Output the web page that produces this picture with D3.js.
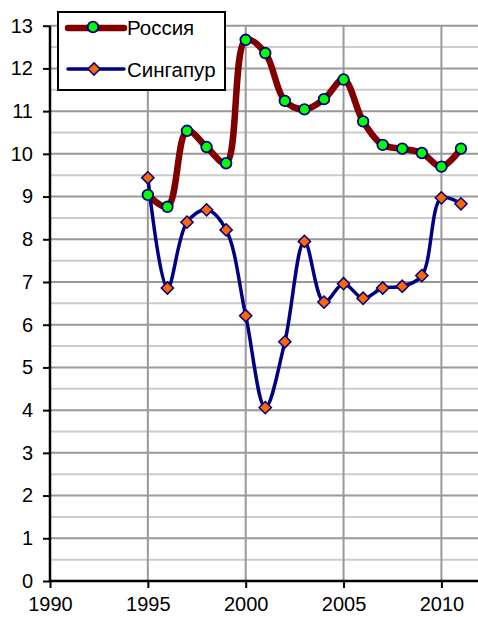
<!DOCTYPE html>
<html>
<head>
<meta charset="utf-8">
<script src="https://cdn.jsdelivr.net/npm/d3@7"></script>
<style>
  body { margin: 0; background: #fff; }
  svg { display: block; font-family: "Liberation Sans", Arial, sans-serif; }
</style>
</head>
<body>
<svg id="chart" width="478" height="617"></svg>
<script>
// data
var years = [1995, 1996, 1997, 1998, 1999, 2000, 2001, 2002, 2003, 2004, 2005, 2006, 2007, 2008, 2009, 2010, 2011];
var russia = [9.04, 8.76, 10.54, 10.16, 9.78, 12.67, 12.36, 11.24, 11.04, 11.28, 11.74, 10.76, 10.21, 10.12, 10.02, 9.70, 10.12];
var singapore = [9.44, 6.86, 8.40, 8.69, 8.22, 6.21, 4.06, 5.60, 7.95, 6.53, 6.96, 6.62, 6.86, 6.90, 7.15, 8.97, 8.83];
var xTicks = [1990, 1995, 2000, 2005, 2010];
var yTicks = [0, 1, 2, 3, 4, 5, 6, 7, 8, 9, 10, 11, 12, 13];
var seriesNames = ["Россия", "Сингапур"];

var svg = d3.select("#chart");
var plotLeft = 50, plotTop = 25.7, plotBottom = 581;

var x = d3.scaleLinear().domain([1990, 2012]).range([plotLeft, plotLeft + 22 * 19.57]);
var y = d3.scaleLinear().domain([0, 13]).range([plotBottom, plotTop]);

// minor grid
svg.append("g").selectAll("line")
  .data(d3.range(0.5, 13, 1))
  .join("line")
  .attr("x1", plotLeft).attr("x2", 478)
  .attr("y1", function(d) { return y(d); }).attr("y2", function(d) { return y(d); })
  .attr("stroke", "#cccccc").attr("stroke-width", 2);

// major grid
svg.append("g").selectAll("line")
  .data(yTicks.slice(1))
  .join("line")
  .attr("x1", plotLeft).attr("x2", 478)
  .attr("y1", function(d) { return y(d); }).attr("y2", function(d) { return y(d); })
  .attr("stroke", "#999999").attr("stroke-width", 2);

svg.append("g").selectAll("line")
  .data(xTicks.slice(1))
  .join("line")
  .attr("x1", function(d) { return x(d); }).attr("x2", function(d) { return x(d); })
  .attr("y1", plotTop).attr("y2", plotBottom)
  .attr("stroke", "#999999").attr("stroke-width", 2);

// axes
var yAxis = svg.append("g")
  .attr("transform", "translate(" + plotLeft + ",0)")
  .call(d3.axisLeft(y).tickValues(yTicks).tickSize(7).tickPadding(10).tickFormat(d3.format("d")));
var xAxis = svg.append("g")
  .attr("transform", "translate(0," + plotBottom + ")")
  .call(d3.axisBottom(x).tickValues(xTicks).tickSize(7).tickPadding(9).tickFormat(d3.format("d")));

[yAxis, xAxis].forEach(function(a) {
  a.select(".domain").attr("stroke", "#000").attr("stroke-width", 2.5);
  a.selectAll(".tick line").attr("stroke", "#000").attr("stroke-width", 2);
  a.selectAll("text").attr("font-size", 20).attr("fill", "#000")
    .attr("font-family", "'Liberation Sans', Arial, sans-serif");
});
xAxis.select(".domain").attr("d", "M" + plotLeft + ",0H478");
yAxis.select(".domain").attr("d", "M0," + plotTop + "V" + plotBottom);

// lines
var line = d3.line()
  .x(function(d, i) { return x(years[i]); })
  .y(function(d) { return y(d); })
  .curve(d3.curveCatmullRom.alpha(0.5));

svg.append("path").datum(russia)
  .attr("d", line).attr("fill", "none")
  .attr("stroke", "#800000").attr("stroke-width", 6.5).attr("stroke-linejoin", "round");

svg.append("path").datum(singapore)
  .attr("d", line).attr("fill", "none")
  .attr("stroke", "#000080").attr("stroke-width", 3.5).attr("stroke-linejoin", "round");

var diamond = d3.symbol().type(d3.symbolDiamond2).size(95);

svg.append("g").selectAll("path")
  .data(singapore)
  .join("path")
  .attr("d", diamond)
  .attr("transform", function(d, i) { return "translate(" + x(years[i]) + "," + y(d) + ")"; })
  .attr("fill", "#ff6600").attr("stroke", "#000080").attr("stroke-width", 1.5);

svg.append("g").selectAll("circle")
  .data(russia)
  .join("circle")
  .attr("cx", function(d, i) { return x(years[i]); })
  .attr("cy", function(d) { return y(d); })
  .attr("r", 5.3)
  .attr("fill", "#00ff00").attr("stroke", "#000080").attr("stroke-width", 1.8);

// legend
var lg = svg.append("g");
lg.append("rect")
  .attr("x", 58).attr("y", 12).attr("width", 167).attr("height", 78)
  .attr("fill", "#fff").attr("stroke", "#000").attr("stroke-width", 2);

lg.append("line").attr("x1", 68).attr("x2", 124).attr("y1", 28).attr("y2", 28)
  .attr("stroke", "#800000").attr("stroke-width", 6.5).attr("stroke-linecap", "round");
lg.append("circle").attr("cx", 93).attr("cy", 27).attr("r", 5.3)
  .attr("fill", "#00ff00").attr("stroke", "#000080").attr("stroke-width", 1.8);

lg.append("line").attr("x1", 68).attr("x2", 124).attr("y1", 69).attr("y2", 69)
  .attr("stroke", "#000080").attr("stroke-width", 3.5).attr("stroke-linecap", "round");
lg.append("path").attr("d", diamond)
  .attr("transform", "translate(94,69)")
  .attr("fill", "#ff6600").attr("stroke", "#000080").attr("stroke-width", 1.5);

lg.selectAll("text")
  .data(seriesNames)
  .join("text")
  .attr("x", 127)
  .attr("y", function(d, i) { return i === 0 ? 35 : 77; })
  .attr("font-size", 20.5)
  .text(function(d) { return d; });
</script>
</body>
</html>
